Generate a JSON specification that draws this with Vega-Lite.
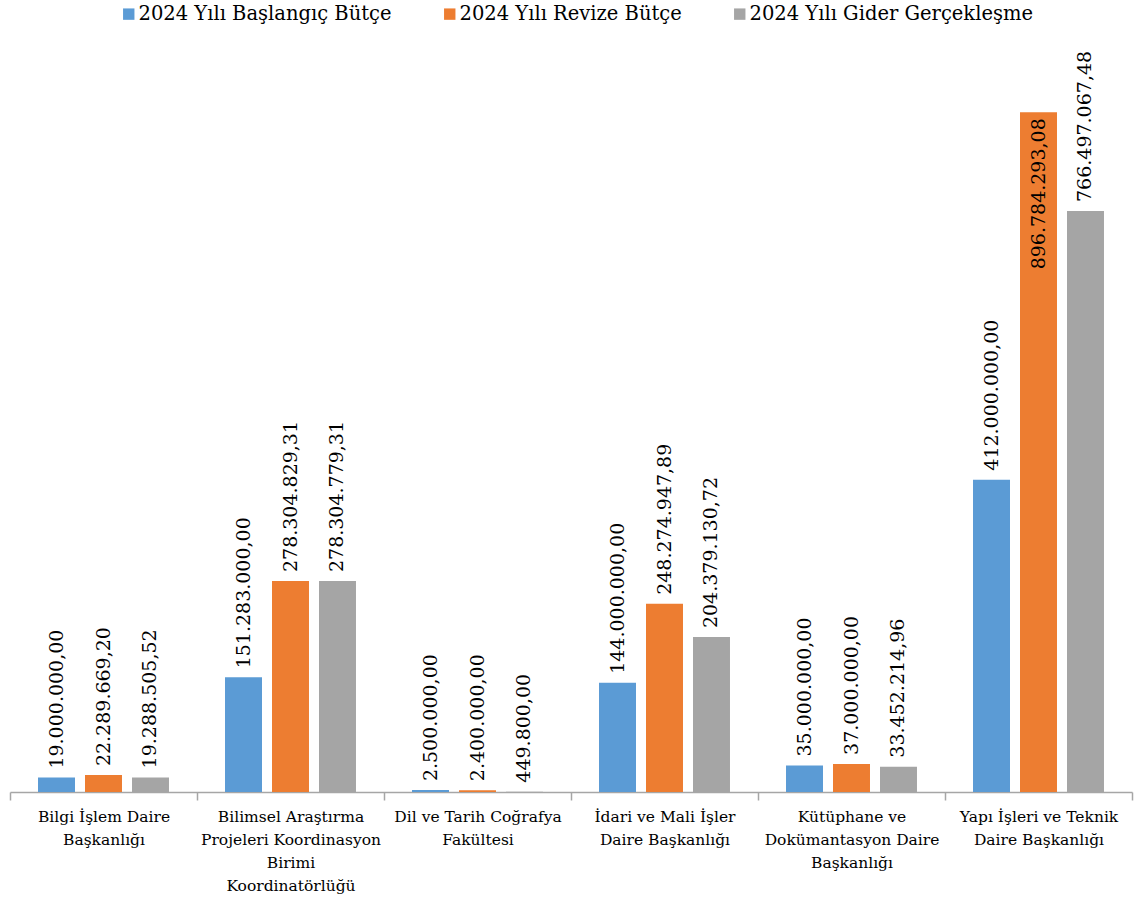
{
  "$schema": "https://vega.github.io/schema/vega-lite/v6.json",
  "width": 1122,
  "height": 758,
  "autosize": {"type": "none"},
  "padding": {"left": 10, "top": 34, "right": 2, "bottom": 106},
  "background": "white",
  "config": {
    "view": {"stroke": null},
    "font": "DejaVu Serif",
    "locale": {"number": {"decimal": ",", "thousands": ".", "grouping": [3], "currency": ["", " ₺"]}}
  },
  "data": {
    "values": [
      {"birim": "Bilgi İşlem Daire|Başkanlığı", "seri": "2024 Yılı Başlangıç Bütçe", "deger": 19000000.00},
      {"birim": "Bilgi İşlem Daire|Başkanlığı", "seri": "2024 Yılı Revize Bütçe", "deger": 22289669.20},
      {"birim": "Bilgi İşlem Daire|Başkanlığı", "seri": "2024 Yılı Gider Gerçekleşme", "deger": 19288505.52},
      {"birim": "Bilimsel Araştırma|Projeleri Koordinasyon|Birimi|Koordinatörlüğü", "seri": "2024 Yılı Başlangıç Bütçe", "deger": 151283000.00},
      {"birim": "Bilimsel Araştırma|Projeleri Koordinasyon|Birimi|Koordinatörlüğü", "seri": "2024 Yılı Revize Bütçe", "deger": 278304829.31},
      {"birim": "Bilimsel Araştırma|Projeleri Koordinasyon|Birimi|Koordinatörlüğü", "seri": "2024 Yılı Gider Gerçekleşme", "deger": 278304779.31},
      {"birim": "Dil ve Tarih Coğrafya|Fakültesi", "seri": "2024 Yılı Başlangıç Bütçe", "deger": 2500000.00},
      {"birim": "Dil ve Tarih Coğrafya|Fakültesi", "seri": "2024 Yılı Revize Bütçe", "deger": 2400000.00},
      {"birim": "Dil ve Tarih Coğrafya|Fakültesi", "seri": "2024 Yılı Gider Gerçekleşme", "deger": 449800.00},
      {"birim": "İdari ve Mali İşler|Daire Başkanlığı", "seri": "2024 Yılı Başlangıç Bütçe", "deger": 144000000.00},
      {"birim": "İdari ve Mali İşler|Daire Başkanlığı", "seri": "2024 Yılı Revize Bütçe", "deger": 248274947.89},
      {"birim": "İdari ve Mali İşler|Daire Başkanlığı", "seri": "2024 Yılı Gider Gerçekleşme", "deger": 204379130.72},
      {"birim": "Kütüphane ve|Dokümantasyon Daire|Başkanlığı", "seri": "2024 Yılı Başlangıç Bütçe", "deger": 35000000.00},
      {"birim": "Kütüphane ve|Dokümantasyon Daire|Başkanlığı", "seri": "2024 Yılı Revize Bütçe", "deger": 37000000.00},
      {"birim": "Kütüphane ve|Dokümantasyon Daire|Başkanlığı", "seri": "2024 Yılı Gider Gerçekleşme", "deger": 33452214.96},
      {"birim": "Yapı İşleri ve Teknik|Daire Başkanlığı", "seri": "2024 Yılı Başlangıç Bütçe", "deger": 412000000.00},
      {"birim": "Yapı İşleri ve Teknik|Daire Başkanlığı", "seri": "2024 Yılı Revize Bütçe", "deger": 896784293.08},
      {"birim": "Yapı İşleri ve Teknik|Daire Başkanlığı", "seri": "2024 Yılı Gider Gerçekleşme", "deger": 766497067.48}
    ]
  },
  "encoding": {
    "x": {
      "field": "birim", "type": "nominal", "sort": null, "title": null,
      "scale": {"paddingInner": 0, "paddingOuter": 0},
      "axis": {
        "labelAngle": 0,
        "labelExpr": "split(datum.label, '|')",
        "labelFont": "DejaVu Serif",
        "labelFontSize": 15.5,
        "labelLineHeight": 23,
        "labelColor": "#000000",
        "labelPadding": 9,
        "labelLimit": 300,
        "tickBand": "extent",
        "tickSize": 8,
        "tickColor": "#A6A6A6",
        "tickWidth": 1.5,
        "domainColor": "#A6A6A6",
        "domainWidth": 1.5,
        "grid": false
      }
    },
    "xOffset": {
      "field": "seri", "type": "nominal",
      "sort": ["2024 Yılı Başlangıç Bütçe", "2024 Yılı Revize Bütçe", "2024 Yılı Gider Gerçekleşme"],
      "scale": {"paddingInner": 0.213, "paddingOuter": 0.596}
    },
    "y": {
      "field": "deger", "type": "quantitative",
      "scale": {"domain": [0, 1000000000], "nice": false},
      "axis": null
    }
  },
  "layer": [
    {
      "mark": {"type": "bar"},
      "encoding": {
        "color": {
          "field": "seri", "type": "nominal",
          "scale": {
            "domain": ["2024 Yılı Başlangıç Bütçe", "2024 Yılı Revize Bütçe", "2024 Yılı Gider Gerçekleşme"],
            "range": ["#5B9BD5", "#ED7D31", "#A5A5A5"]
          },
          "legend": {
            "title": null,
            "orient": "none",
            "direction": "horizontal",
            "legendX": 109,
            "legendY": -30,
            "padding": 0,
            "symbolType": "square",
            "symbolSize": 130,
            "symbolStrokeWidth": 0,
            "labelFont": "DejaVu Serif",
            "labelFontSize": 19.5,
            "labelColor": "#000000",
            "labelOffset": 0,
            "labelLimit": 400,
            "columnPadding": 48
          }
        }
      }
    },
    {
      "transform": [{"filter": "datum.deger < 850000000"}],
      "mark": {"type": "text", "angle": 270, "align": "left", "baseline": "middle", "dx": 9, "font": "DejaVu Serif", "fontSize": 19, "color": "#000000"},
      "encoding": {"text": {"field": "deger", "type": "quantitative", "format": ",.2f"}}
    },
    {
      "transform": [{"filter": "datum.deger >= 850000000"}],
      "mark": {"type": "text", "angle": 270, "align": "right", "baseline": "middle", "dx": -6, "font": "DejaVu Serif", "fontSize": 19, "color": "#000000"},
      "encoding": {"text": {"field": "deger", "type": "quantitative", "format": ",.2f"}}
    }
  ]
}
